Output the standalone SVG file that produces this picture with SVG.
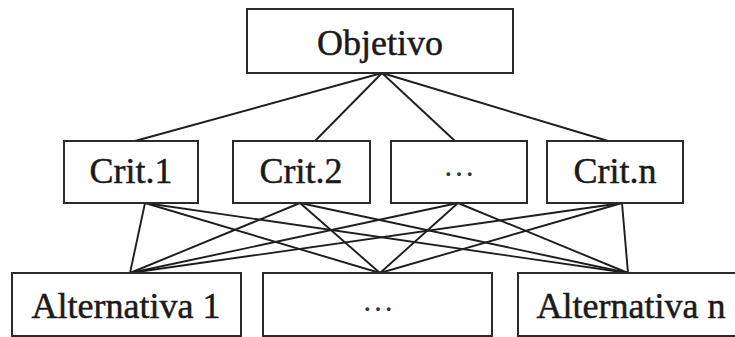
<svg xmlns="http://www.w3.org/2000/svg" width="735" height="337" viewBox="0 0 735 337">
  <style>
    .box { fill: #ffffff; stroke: #2a2a2a; stroke-width: 2; }
    .lbl { font-family: "Liberation Serif", "Times New Roman", serif; font-size: 36px; fill: #1a1a1a; stroke: #1a1a1a; stroke-width: 0.5; text-anchor: middle; }
    .dots { font-family: "Liberation Serif", "Times New Roman", serif; font-size: 32px; fill: #333333; text-anchor: middle; }
    .edge { stroke: #1e1e1e; stroke-width: 1.9; fill: none; }
  </style>
  <rect width="735" height="337" fill="#ffffff"/>

  <!-- connectors -->
  <g id="connectors" class="edge">
    <!-- goal to criteria -->
    <line x1="382" y1="73" x2="135" y2="141"/>
    <line x1="382" y1="73" x2="315" y2="141"/>
    <line x1="382" y1="73" x2="455" y2="141"/>
    <line x1="382" y1="73" x2="608" y2="141"/>
    <!-- criteria to alternatives -->
    <line x1="145" y1="203" x2="130" y2="273"/>
    <line x1="145" y1="203" x2="380" y2="273"/>
    <line x1="145" y1="203" x2="628" y2="273"/>
    <line x1="300" y1="203" x2="130" y2="273"/>
    <line x1="300" y1="203" x2="380" y2="273"/>
    <line x1="300" y1="203" x2="628" y2="273"/>
    <line x1="458" y1="203" x2="130" y2="273"/>
    <line x1="458" y1="203" x2="380" y2="273"/>
    <line x1="458" y1="203" x2="628" y2="273"/>
    <line x1="622" y1="203" x2="130" y2="273"/>
    <line x1="622" y1="203" x2="380" y2="273"/>
    <line x1="622" y1="203" x2="628" y2="273"/>
  </g>

  <!-- goal -->
  <g id="objetivo">
    <rect class="box" x="247" y="9" width="266" height="64"/>
    <text class="lbl" x="380" y="55">Objetivo</text>
  </g>

  <!-- criteria -->
  <g id="crit1">
    <rect class="box" x="64" y="141" width="134" height="62"/>
    <text class="lbl" x="131" y="183">Crit.1</text>
  </g>
  <g id="crit2">
    <rect class="box" x="233" y="141" width="137" height="62"/>
    <text class="lbl" x="301" y="183">Crit.2</text>
  </g>
  <g id="crit-more">
    <rect class="box" x="391" y="141" width="136" height="62"/>
    <text class="dots" x="459" y="176">…</text>
  </g>
  <g id="critn">
    <rect class="box" x="547" y="141" width="136" height="62"/>
    <text class="lbl" x="615" y="183">Crit.n</text>
  </g>

  <!-- alternatives -->
  <g id="alt1">
    <rect class="box" x="12" y="273" width="229" height="63"/>
    <text class="lbl" x="126" y="318">Alternativa 1</text>
  </g>
  <g id="alt-more">
    <rect class="box" x="263" y="273" width="229" height="63"/>
    <text class="dots" x="378" y="311">…</text>
  </g>
  <g id="altn">
    <rect class="box" x="518" y="273" width="228" height="63"/>
    <text class="lbl" x="631" y="318">Alternativa n</text>
  </g>
</svg>
